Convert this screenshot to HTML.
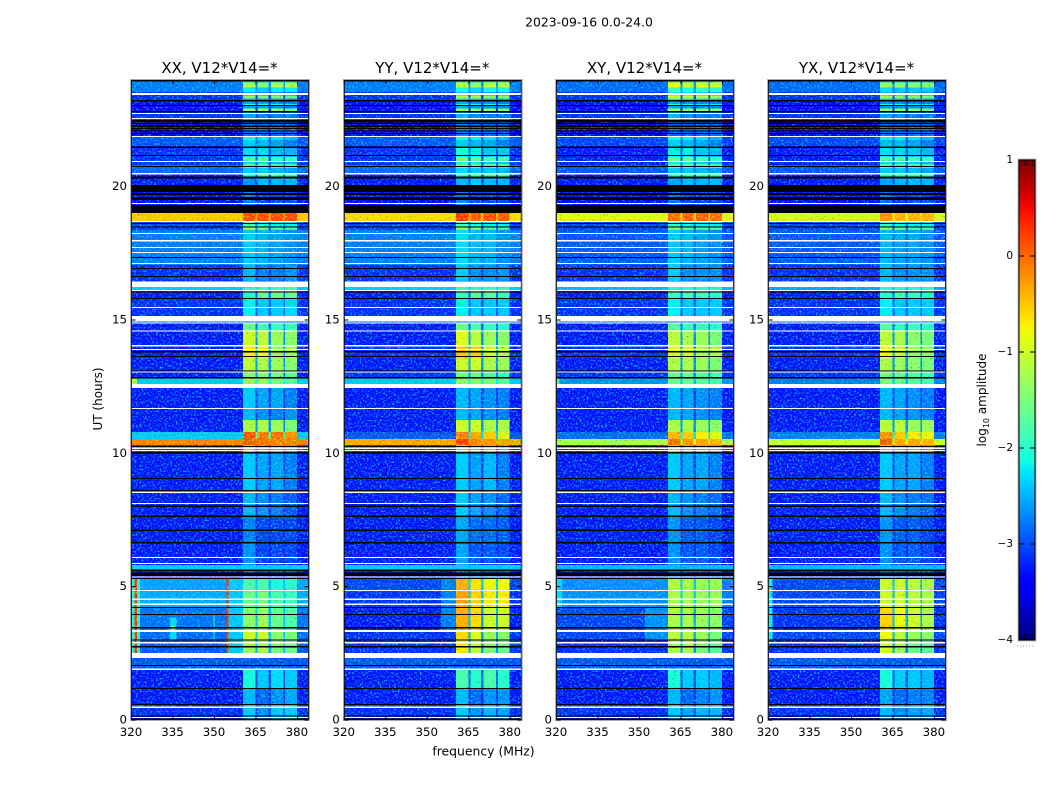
<!DOCTYPE html>
<html lang="en">
<head>
<meta charset="utf-8">
<title>2023-09-16 0.0-24.0</title>
<style>
html,body{margin:0;padding:0;background:#fff;}
svg{display:block;font-family:"DejaVu Sans","Liberation Sans",sans-serif;fill:#000;}
</style>
</head>
<body>
<svg id="chart" width="1050" height="800" viewBox="0 0 1050 800" xmlns="http://www.w3.org/2000/svg">
<defs>
<filter id="speckle-light" x="0" y="0" width="100%" height="100%" color-interpolation-filters="sRGB">
<feTurbulence type="fractalNoise" baseFrequency="0.55" numOctaves="1" seed="7"/>
<feColorMatrix type="matrix" values="0 0 0 0 0 3.6 0 0 0 -1.78 0 0 0 0 0 0 0 0 0 1"/>
</filter>
<filter id="speckle-dark" x="0" y="0" width="100%" height="100%" color-interpolation-filters="sRGB">
<feTurbulence type="fractalNoise" baseFrequency="0.55" numOctaves="1" seed="23"/>
<feColorMatrix type="matrix" values="3 0 0 0 -0.1 3 0 0 0 -0.1 3 0 0 0 -0.1 0 0 0 0 1"/>
</filter>
<linearGradient id="jet-gradient" x1="0" y1="1" x2="0" y2="0"></linearGradient>
</defs>
<text x="589" y="26.5" font-size="12.4" text-anchor="middle">2023-09-16 0.0-24.0</text>
<text x="483.5" y="755.5" font-size="12.4" text-anchor="middle">frequency (MHz)</text>
<text x="0" y="0" font-size="12" text-anchor="middle" transform="translate(102 399) rotate(-90)">UT (hours)</text>
<text x="0" y="0" font-size="12" text-anchor="middle" transform="translate(986 400) rotate(-90)">log<tspan font-size="8" dy="3">10</tspan><tspan dy="-3"> amplitude</tspan></text>
</svg>
<script>
// ---- shared axis data ----
const freqTicks = [320, 335, 350, 365, 380];
const hourTicks = [0, 5, 10, 15, 20];
const colorTicks = [-4, -3, -2, -1, 0, 1];
const panelTitles = ["XX", "YY", "XY", "YX"];

// frequency bands: start and end in MHz (four active receiver bands)
const bandStarts = [360.3, 365.6, 370.4, 375.5];
const bandEnds = [364.9, 369.5, 374.9, 379.8];

// time rows (hours), the lower edge of each row of levels below
const rowStarts = [0,.6,1.2,1.875,2.325,2.51,3,3.34,4.24,4.8,5.325,5.625,5.81,6.675,7.65,8.55,10.01,10.31,10.54,10.8,11.25,11.7,12.45,12.6,12.825,13.09,13.575,14.06,14.625,14.89,15.15,15.825,16.09,16.24,16.46,17.06,18.375,18.71,19.01,19.31,19.8,20.06,20.51,20.81,21.525,21.9,22.5,22.8,23.25,23.55];
const rowEnd = 24;

// log10 amplitude per row: [background, band1, band2, band3, band4]
const xxLevels = [[-3.2,-2.4,-2.7,-2.4,-2.4],[-3.3,-2.5,-2.9,-2.7,-2.6],[-3.3,-2.1,-2.4,-2.3,-2.4],[-3,-3,-3,-3,-3],[-3,-3,-3,-3,-3],[-3,-1.3,-1.2,-1.5,-1.6],[-2.9,-1,-1,-1.4,-1.5],[-2.85,-1.4,-1.3,-1.6,-1.8],[-2.55,-1.6,-1.5,-1.8,-1.9],[-2.6,-1.8,-1.8,-2.1,-2],[-3.4,-2.9,-3,-3,-3],[-2.4,-2.4,-2.4,-2.4,-2.4],[-3.3,-2.7,-3.1,-3.1,-3.1],[-3.3,-2.8,-3.1,-3.1,-3.1],[-3.3,-2.5,-2.7,-2.8,-3],[-3.3,-2.4,-2.6,-2.6,-2.8],[-3.1,-2,-2.3,-2.3,-2.4],[-.1,.1,0,-.1,-.1],[-2.4,.15,0,0,-.2],[-3.3,-1.2,-1.2,-1.3,-1.5],[-3.3,-2.5,-2.7,-2.8,-2.7],[-3.3,-2.4,-2.6,-2.6,-2.8],[-3,-3,-3,-3,-3],[-2.4,-1.3,-1.3,-1.5,-1.7],[-3.3,-1.4,-1.4,-1.5,-1.7],[-3.3,-1.1,-1.2,-1.3,-1.4],[-3.3,-.7,-.8,-1.3,-1.3],[-3.3,-1,-1.1,-1.3,-1.4],[-3.3,-1.6,-1.8,-1.9,-1.9],[-3,-3,-3,-3,-3],[-3.2,-2.2,-2.4,-2.4,-2.3],[-3.3,-2,-1.6,-1.6,-1.6],[-2.4,-1.9,-1.9,-1.9,-1.9],[-3,-3,-3,-3,-3],[-3.2,-2.5,-2.8,-2.8,-2.7],[-2.8,-2.4,-2.5,-2.6,-2.7],[-3.1,-1.8,-2,-2.2,-2.2],[-.5,.2,.2,.2,.2],[-3.6,-3.6,-3.6,-3.6,-3.6],[-3.4,-2.8,-3.1,-3.1,-3.1],[-3.6,-3.6,-3.6,-3.6,-3.6],[-3.3,-2.7,-2.5,-2.5,-2.5],[-2.9,-2.4,-2.4,-2.5,-2.6],[-3.2,-2.3,-2.3,-2.5,-2.5],[-3,-2.4,-2.5,-2.6,-2.8],[-3.6,-2.9,-2.9,-2.9,-2.9],[-3.2,-2.6,-2.8,-2.8,-2.8],[-3.4,-2.6,-2.6,-2.7,-2.8],[-3.2,-2.6,-2.7,-2.7,-2.8],[-2.8,-2.2,-2.4,-2.2,-2.2]];
const yyLevels = [[-3.2,-2.4,-2.7,-2.5,-2.6],[-3.3,-2.5,-2.9,-2.7,-2.7],[-3.3,-1.8,-2,-1.8,-2],[-3,-3,-3,-3,-3],[-3,-3,-3,-3,-3],[-3.2,-.7,-1.1,-1.5,-1.6],[-3.2,-.6,-.9,-1.3,-1.4],[-3.3,-.35,-.6,-1,-1],[-3.2,-.25,-.55,-.7,-.7],[-3.1,-.35,-.65,-.8,-.8],[-3.4,-2.9,-3,-3,-3],[-2.4,-2.4,-2.4,-2.4,-2.4],[-3.3,-2.6,-3,-3,-3.1],[-3.3,-2.6,-2.9,-2.9,-3],[-3.3,-2.4,-2.6,-2.7,-2.9],[-3.3,-2.4,-2.6,-2.5,-2.8],[-3.2,-1.9,-2.2,-2.2,-2.4],[-.3,.3,-.1,-.2,-.3],[-3,-.1,-.3,-.5,-.9],[-3.3,-1,-1,-1.2,-1.2],[-3.3,-2.5,-2.6,-2.7,-2.8],[-3.3,-2.5,-2.6,-2.7,-2.8],[-3,-3,-3,-3,-3],[-2.4,-1.4,-1.4,-1.5,-1.7],[-3.2,-1.6,-1.6,-1.7,-1.9],[-3.3,-1,-1,-1.2,-1.3],[-3.2,-.5,-.5,-1,-1.1],[-3.3,-.9,-1.1,-1.3,-1.4],[-3.3,-1.6,-1.8,-1.9,-2],[-3,-3,-3,-3,-3],[-3.2,-2.2,-2.4,-2.4,-2.4],[-3.3,-1.9,-1.7,-1.7,-1.9],[-2.4,-1.9,-1.9,-1.9,-1.9],[-3,-3,-3,-3,-3],[-3.2,-2.4,-2.7,-2.7,-2.7],[-2.8,-2.3,-2.5,-2.5,-2.7],[-3.1,-1.8,-2,-2.2,-2.2],[-.6,.3,.1,.2,.1],[-3.6,-3.6,-3.6,-3.6,-3.6],[-3.4,-2.8,-3.1,-3.1,-3.1],[-3.6,-3.6,-3.6,-3.6,-3.6],[-3.3,-2.5,-2.4,-2.5,-2.5],[-2.9,-2.3,-2.4,-2.4,-2.5],[-3.2,-2.1,-2.2,-2.4,-2.4],[-3,-2.4,-2.5,-2.6,-2.8],[-3.6,-2.8,-2.9,-2.9,-2.9],[-3.2,-2.5,-2.7,-2.8,-2.8],[-3.4,-2.6,-2.7,-2.7,-2.8],[-3.2,-2.4,-2.5,-2.6,-2.6],[-2.8,-2.1,-2.3,-2.1,-2.1]];
const xyLevels = [[-3.2,-2.4,-2.6,-2.5,-2.5],[-3.3,-2.5,-2.9,-2.8,-2.7],[-3.3,-2.1,-2.4,-2.4,-2.5],[-3,-3,-3,-3,-3],[-3,-3,-3,-3,-3],[-3.2,-1.2,-1.2,-1.5,-1.7],[-3.1,-1.1,-1.1,-1.3,-1.5],[-3.1,-1.2,-1.2,-1.3,-1.4],[-2.8,-1.2,-1.2,-1.3,-1.3],[-2.8,-1.2,-1.2,-1.3,-1.3],[-3.4,-2.9,-3,-3,-3],[-2.5,-2.5,-2.5,-2.5,-2.5],[-3.3,-2.7,-3,-3,-3.1],[-3.3,-2.7,-3,-3,-3.1],[-3.3,-2.5,-2.7,-2.8,-2.9],[-3.3,-2.4,-2.6,-2.6,-2.8],[-3.2,-1.9,-2.2,-2.2,-2.4],[-1.2,0,-.2,-.3,-.4],[-2.9,-.4,-.5,-.7,-.9],[-3.3,-1.2,-1.2,-1.3,-1.4],[-3.3,-2.5,-2.6,-2.7,-2.8],[-3.3,-2.5,-2.6,-2.7,-2.8],[-3,-3,-3,-3,-3],[-2.7,-1.6,-1.6,-1.7,-1.8],[-3.2,-1.6,-1.6,-1.7,-1.8],[-3.3,-1.2,-1.2,-1.3,-1.5],[-3.2,-.9,-.9,-1.2,-1.2],[-3.3,-1.1,-1.2,-1.3,-1.5],[-3.3,-1.7,-1.9,-1.9,-2],[-3,-3,-3,-3,-3],[-3.2,-2.2,-2.4,-2.4,-2.4],[-3.3,-1.9,-1.8,-1.8,-2],[-2.5,-2,-2,-2,-2],[-3,-3,-3,-3,-3],[-3.2,-2.4,-2.7,-2.7,-2.7],[-3,-2.4,-2.5,-2.6,-2.7],[-3.1,-1.9,-2.1,-2.2,-2.2],[-.9,0,.1,.1,0],[-3.6,-3.6,-3.6,-3.6,-3.6],[-3.4,-2.9,-3.1,-3.1,-3.1],[-3.6,-3.6,-3.6,-3.6,-3.6],[-3.3,-2.6,-2.5,-2.5,-2.5],[-3,-2.4,-2.4,-2.5,-2.6],[-3.3,-2.2,-2.2,-2.4,-2.5],[-3.1,-2.4,-2.5,-2.6,-2.8],[-3.6,-2.9,-2.9,-2.9,-2.9],[-3.2,-2.5,-2.7,-2.8,-2.8],[-3.4,-2.6,-2.7,-2.8,-2.8],[-3.2,-2.2,-2.3,-2.4,-2.5],[-2.9,-1.8,-2,-1.9,-2]];
const yxLevels = [[-3.2,-2.5,-2.7,-2.6,-2.6],[-3.3,-2.6,-2.9,-2.8,-2.8],[-3.3,-2.1,-2.4,-2.4,-2.5],[-3,-3,-3,-3,-3],[-3,-3,-3,-3,-3],[-3.2,-1,-1.3,-1.6,-1.7],[-3.1,-.8,-1.1,-1.3,-1.4],[-3.2,-.55,-.8,-1,-1.2],[-3.1,-1,-1,-1.1,-1.2],[-3.1,-1,-1,-1.1,-1.2],[-3.4,-2.9,-3,-3,-3],[-2.5,-2.5,-2.5,-2.5,-2.5],[-3.3,-2.7,-3,-3,-3.1],[-3.3,-2.7,-3,-3,-3.1],[-3.3,-2.5,-2.7,-2.8,-2.9],[-3.3,-2.4,-2.6,-2.6,-2.8],[-3.2,-1.9,-2.2,-2.2,-2.4],[-1,.1,-.3,-.3,-.4],[-2.8,-.2,-.5,-.7,-.8],[-3.3,-1.1,-1.1,-1.3,-1.3],[-3.3,-2.5,-2.6,-2.7,-2.8],[-3.3,-2.5,-2.6,-2.7,-2.8],[-3,-3,-3,-3,-3],[-2.8,-1.5,-1.6,-1.7,-1.8],[-3.2,-1.5,-1.6,-1.7,-1.8],[-3.3,-1.2,-1.3,-1.4,-1.5],[-3.2,-.8,-1,-1.3,-1.3],[-3.3,-1.1,-1.2,-1.4,-1.5],[-3.3,-1.7,-1.9,-1.9,-2],[-3,-3,-3,-3,-3],[-3.2,-2.2,-2.4,-2.4,-2.4],[-3.3,-2,-1.8,-1.9,-2],[-2.6,-2,-2,-2,-2],[-3,-3,-3,-3,-3],[-3.2,-2.5,-2.7,-2.7,-2.7],[-3,-2.5,-2.6,-2.6,-2.7],[-3.1,-1.9,-2.1,-2.2,-2.2],[-1,-.2,-.4,-.4,-.4],[-3.6,-3.6,-3.6,-3.6,-3.6],[-3.4,-2.9,-3.1,-3.1,-3.1],[-3.6,-3.6,-3.6,-3.6,-3.6],[-3.3,-2.6,-2.5,-2.5,-2.5],[-3,-2.4,-2.4,-2.5,-2.6],[-3.3,-2.3,-2.3,-2.4,-2.5],[-3.1,-2.5,-2.5,-2.6,-2.8],[-3.6,-2.9,-2.9,-2.9,-2.9],[-3.2,-2.6,-2.7,-2.8,-2.8],[-3.4,-2.7,-2.7,-2.8,-2.8],[-3.2,-2.5,-2.6,-2.6,-2.7],[-2.9,-2.3,-2.4,-2.4,-2.4]];

// short-lived rises inside the bands: [hourStart, hourEnd, addedLevel]
const bandAccents = [[18.4,18.5,.5],[20.36,20.47,.6],[20.7,20.85,.7],[20.96,21.11,.6],[21.75,21.86,.3],[22.84,22.93,1.3],[23.03,23.1,.6],[23.3,23.42,1.2],[23.72,23.9,1]];

// localized interference: [freqStart, freqEnd, hourStart, hourEnd, level]
const xxInterference = [[320,323,2.51,5.325,-2.1],[321,322,2.51,5.325,.35],[354.3,355,2.51,5.325,.35],[355,360.3,2.51,5.325,-2.4],[334,336.2,3,3.85,-2.3],[334.4,335.6,3.4,3.53,-.8],[349.6,350.1,3,4,-2],[320,322,12.6,12.825,-1.2]];
const yyInterference = [[355,360.3,3.34,5.325,-2.8]];
const xyInterference = [[320,322,4.24,5.325,-2.3],[322,352,4.24,5.325,-2.7],[352,360.3,3,5.325,-2.7],[320,321,12.6,12.825,-1.8]];
const yxInterference = [[320,321.5,3,5.325,-2.2]];

// flagged time spans in hours: [start, end]
const missingSpans = [[.07,.11],[.45,.51],[1.875,1.935],[2.325,2.51],[2.875,2.925],[3.305,3.375],[4.315,4.375],[4.505,4.565],[4.83,4.87],[5.34,5.39],[5.85,5.89],[6.08,6.12],[8.095,8.135],[8.515,8.565],[10.085,10.125],[10.165,10.215],[11.66,11.7],[12.45,12.6],[13.025,13.085],[13.875,13.915],[14.015,14.065],[14.585,14.615],[14.865,14.905],[14.945,15.145],[15.445,15.485],[16.085,16.125],[16.235,16.445],[17.105,17.145],[17.515,17.555],[17.705,17.745],[17.945,18.005],[18.22,18.26],[18.69,18.72],[19.345,19.385],[20.455,20.505],[20.925,20.955],[21.855,21.895],[22.535,22.575],[22.725,22.765],[23.435,23.505]];
const blankedSpans = [[.02,.05],[.125,.165],[.565,.595],[1.165,1.195],[2.025,2.065],[2.725,2.775],[2.985,3.015],[3.435,3.485],[3.945,3.975],[4.205,4.235],[5.295,5.325],[5.405,5.535],[5.585,5.635],[6.625,6.675],[7.085,7.145],[7.605,7.665],[7.985,8.045],[8.565,8.625],[9.035,9.075],[9.995,10.055],[10.235,10.275],[12.815,12.855],[13.085,13.115],[13.605,13.645],[13.775,13.835],[15.785,15.825],[16.035,16.065],[16.615,16.655],[16.915,16.955],[17.325,17.365],[18.475,18.505],[18.595,18.635],[19.005,19.305],[19.505,19.605],[19.685,19.755],[19.795,20.055],[20.315,20.385],[20.735,20.775],[21.145,21.185],[21.445,21.505],[21.975,22.005],[22.065,22.105],[22.165,22.205],[22.245,22.295],[22.345,22.405],[22.425,22.505],[22.785,22.845],[23.025,23.065],[23.195,23.245],[23.945,24]];

const panelLevels = [xxLevels, yyLevels, xyLevels, yxLevels];
const panelInterference = [xxInterference, yyInterference, xyInterference, yxInterference];

// ---- layout ----
const SVG_NS = "http://www.w3.org/2000/svg";
const svg = document.getElementById("chart");
const plotWidth = 177;
const plotTop = 80;
const plotBottom = 720;
const barLeft = 1019;
const barRight = 1035;
const barTop = 160;
const barBottom = 640;
const FREQ_MIN = 320;
const FREQ_MAX = 384;
const HOUR_MAX = 24;
const LEVEL_MIN = -4;
const LEVEL_MAX = 1;

function panelLeft(i) { return [131.5, 344.3, 556.5, 768.5][i]; }
function xScale(i, f) { return panelLeft(i) + (f - FREQ_MIN) / (FREQ_MAX - FREQ_MIN) * plotWidth; }
function yScale(h) { return plotBottom - h / HOUR_MAX * (plotBottom - plotTop); }
function barScale(v) { return barBottom - (v - LEVEL_MIN) / (LEVEL_MAX - LEVEL_MIN) * (barBottom - barTop); }

function ramp(t, pts) {
  for (let k = 1; k < pts.length; k++) {
    if (t <= pts[k][0]) {
      const a = pts[k - 1], b = pts[k];
      return a[1] + (b[1] - a[1]) * (t - a[0]) / (b[0] - a[0]);
    }
  }
  return pts[pts.length - 1][1];
}
function jet(t) {
  t = Math.max(0, Math.min(1, t));
  const r = ramp(t, [[0,0],[.35,0],[.66,1],[.89,1],[1,.5]]);
  const g = ramp(t, [[0,0],[.125,0],[.375,1],[.64,1],[.91,0],[1,0]]);
  const b = ramp(t, [[0,.5],[.11,1],[.34,1],[.65,0],[1,0]]);
  return "rgb(" + Math.round(r * 255) + "," + Math.round(g * 255) + "," + Math.round(b * 255) + ")";
}
function levelColor(v) { return jet((v - LEVEL_MIN) / (LEVEL_MAX - LEVEL_MIN)); }

function make(tag, attrs, parent) {
  const el = document.createElementNS(SVG_NS, tag);
  for (const k in attrs) el.setAttribute(k, attrs[k]);
  parent.appendChild(el);
  return el;
}
function cell(parent, i, f0, f1, h0, h1, v) {
  const x0 = xScale(i, f0), x1 = xScale(i, f1), y0 = yScale(h1), y1 = yScale(h0);
  const el = make("rect", {x: x0, y: y0, width: x1 - x0, height: y1 - y0, fill: levelColor(v), "shape-rendering": "crispEdges"}, parent);
  
  
}
function span(parent, i, s, color, name) {
  const y0 = yScale(s[1]), y1 = yScale(s[0]);
  const el = make("rect", {x: panelLeft(i), y: y0, width: plotWidth, height: Math.max(1, y1 - y0), fill: color, "shape-rendering": "crispEdges"}, parent);
  
  
}
function rowIndexAt(h) {
  let r = 0;
  while (r + 1 < rowStarts.length && rowStarts[r + 1] <= h) r++;
  return r;
}

// ---- panels ----
panelTitles.forEach(function (title, i) {
  const g = make("g", {}, svg);
  
  

  const heat = make("g", {style: "isolation:isolate"}, g);
  
  

  const levels = panelLevels[i];
  rowStarts.forEach(function (h0, r) {
    const h1 = r + 1 < rowStarts.length ? rowStarts[r + 1] : rowEnd;
    const row = levels[r];
    const bg = row[0];
    cell(heat, i, FREQ_MIN, FREQ_MAX, h0, h1, bg);
    bandStarts.forEach(function (start, b) {
      cell(heat, i, start, bandEnds[b], h0, h1, row[b + 1]);
      if (b < bandStarts.length - 1) {
        cell(heat, i, bandEnds[b], bandStarts[b + 1], h0, h1, bg + 0.3 * (Math.min(row[b + 1], row[b + 2]) - bg));
      }
    });
  });
  bandAccents.forEach(function (a) {
    const row = levels[rowIndexAt((a[0] + a[1]) / 2)];
    bandStarts.forEach(function (start, b) {
      cell(heat, i, start, bandEnds[b], a[0], a[1], row[b + 1] + a[2]);
    });
  });
  panelInterference[i].forEach(function (p) {
    cell(heat, i, p[0], p[1], p[2], p[3], p[4]);
  });

  const lightNoise = make("rect", {x: panelLeft(i), y: plotTop, width: plotWidth, height: plotBottom - plotTop, filter: "url(#speckle-light)", opacity: 0.75, style: "mix-blend-mode:screen"}, heat);
  
  
  const darkNoise = make("rect", {x: panelLeft(i), y: plotTop, width: plotWidth, height: plotBottom - plotTop, filter: "url(#speckle-dark)", opacity: 0.7, style: "mix-blend-mode:multiply"}, heat);
  
  

  missingSpans.forEach(function (s) { span(g, i, s, "#fff", "missing-data-row"); });
  blankedSpans.forEach(function (s) { span(g, i, s, "#000", "flagged-data-row"); });

  const frame = make("rect", {x: panelLeft(i), y: plotTop + .5, width: plotWidth, height: plotBottom - plotTop - 1, fill: "none", stroke: "#000", "stroke-width": 1, "stroke-opacity": .85}, g);
  
  
  const outline = make("rect", {x: panelLeft(i) - .9, y: plotTop - .5, width: plotWidth + 1.8, height: plotBottom - plotTop + 1, fill: "none", stroke: "#a0a0a0", "stroke-width": .9}, g);
  
  

  const t = make("text", {x: panelLeft(i) + plotWidth / 2 - .5, y: 73, "font-size": 15, "text-anchor": "middle"}, g);
  t.textContent = title + ", V12*V14=*";
  
  

  freqTicks.forEach(function (f) {
    const x = xScale(i, f);
    [[plotBottom, plotBottom - 4], [plotTop, plotTop + 4]].forEach(function (p) {
      const tick = make("line", {x1: x, x2: x, y1: p[0], y2: p[1], stroke: "#000", "stroke-width": 1}, g);
      
      
    });
    const label = make("text", {x: x - .5, y: 736, "font-size": 11.8, "text-anchor": "middle"}, g);
    label.textContent = f;
    
    
  });

  hourTicks.forEach(function (h) {
    const y = yScale(h);
    const left = panelLeft(i);
    [[left, left + 4], [left + plotWidth, left + plotWidth - 4]].forEach(function (p) {
      const tick = make("line", {x1: p[0], x2: p[1], y1: y, y2: y, stroke: "#000", "stroke-width": 1}, g);
      
      
    });
    const label = make("text", {x: left - 4.5, y: y + 3.5, "font-size": 11.8, "text-anchor": "end"}, g);
    label.textContent = h;
    
    
  });
});

// ---- colorbar ----
const gradient = document.getElementById("jet-gradient");
for (let k = 0; k <= 40; k++) {
  make("stop", {offset: k / 40, "stop-color": jet(k / 40)}, gradient);
}
const bar = make("g", {}, svg);



const barFill = make("rect", {x: barLeft, y: barTop, width: barRight - barLeft, height: barBottom - barTop, fill: "url(#jet-gradient)", stroke: "#000", "stroke-width": 1}, bar);


const barOutline = make("rect", {x: barLeft - .9, y: barTop - .9, width: barRight - barLeft + 1.8, height: barBottom - barTop + 1.8, fill: "none", stroke: "#a0a0a0", "stroke-width": .9}, bar);



[barTop, barBottom].forEach(function (edge, side) {
  for (let x = barLeft + 2.5; x < barRight - 1; x += 2.7) {
    const minor = make("line", {x1: x, x2: x, y1: edge, y2: side ? edge - 6 : edge + 6, stroke: "#000", "stroke-width": .7}, bar);
    
    
  }
});

colorTicks.forEach(function (v) {
  const y = barScale(v);
  if (v > LEVEL_MIN && v < LEVEL_MAX) {
    [[barLeft, barLeft + 5], [barRight - 5, barRight]].forEach(function (p) {
      const tick = make("line", {x1: p[0], x2: p[1], y1: y, y2: y, stroke: "#000", "stroke-width": 1}, bar);
      
      
    });
  }
  const label = make("text", {x: barLeft - 6, y: y + 3, "font-size": 10.5, "text-anchor": "end"}, bar);
  label.textContent = String(v).replace("-", "\u2212");
  
  
});

const dots = make("line", {x1: barLeft - 2, x2: barRight, y1: 646, y2: 646, stroke: "#999", "stroke-width": 1, "stroke-dasharray": "1 2"}, bar);


</script>
</body>
</html>
